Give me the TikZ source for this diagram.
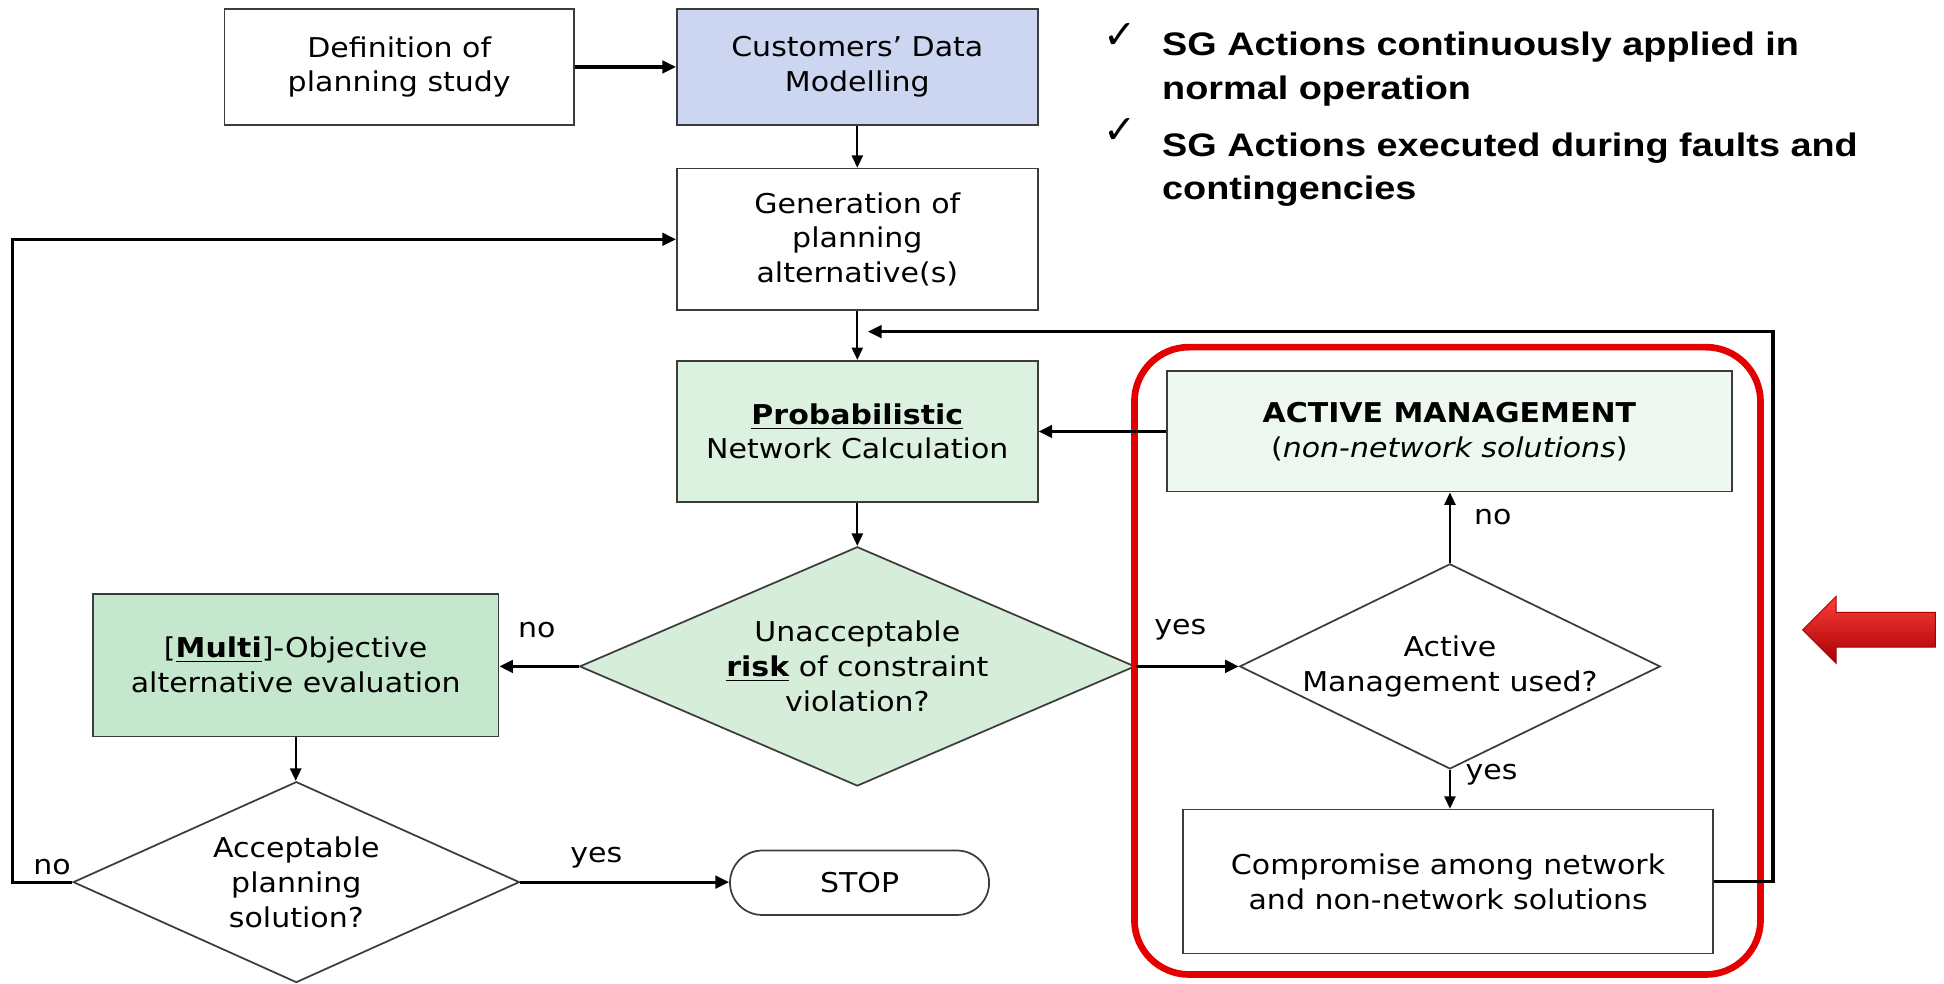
\documentclass[tikz,border=0pt]{standalone}
\usepackage{fontspec}
\setmainfont{DejaVu Sans}[FakeStretch=1.1]
\newfontfamily\bulfont{Liberation Sans}[FakeStretch=1.16]
\newfontfamily\chkfont{DejaVu Sans}
\usetikzlibrary{arrows.meta,shapes.geometric}
\newcommand\bodyfnt{\fontsize{11pt}{14pt}\selectfont}
\definecolor{bord}{RGB}{60,60,60}
\definecolor{custblue}{RGB}{205,214,240}
\definecolor{probgreen}{RGB}{221,241,224}
\definecolor{amgreen}{RGB}{238,248,240}
\definecolor{dgreen}{RGB}{214,237,218}
\definecolor{multigreen}{RGB}{197,231,205}
\definecolor{framered}{RGB}{228,0,0}
\tikzset{
  box/.style={rectangle, draw=bord, line width=0.7pt, inner sep=0pt, align=center, font=\bodyfnt},
  dia/.style={diamond, draw=bord, line width=0.7pt, inner sep=0pt, align=center, font=\bodyfnt},
  lbl/.style={inner sep=0pt, font=\bodyfnt},
  arrthick/.style={line width=1.3pt, -{Triangle[length=5.5pt,width=5pt]}},
  arrthin/.style={line width=0.8pt, -{Triangle[length=5pt,width=4.5pt]}},
  bul/.style={anchor=base west, inner sep=0pt, font=\bulfont\bfseries\fontsize{13.15pt}{16pt}\selectfont},
  chk/.style={inner sep=0pt, font={\chkfont\fontsize{16pt}{18pt}\selectfont}}
}
\begin{document}
\begin{tikzpicture}[x=0.5pt,y=-0.5pt]
\useasboundingbox[fill=white] (0,0) rectangle (1568,793);

% boxes
\node[box, minimum width=141pt, minimum height=47pt] (def) at (322,54) {Definition of\\planning study};
\node[box, fill=custblue, minimum width=145.5pt, minimum height=47pt] (cust) at (691.5,54) {Customers' Data\\Modelling};
\node[box, minimum width=145.5pt, minimum height=57pt] (gen) at (691.5,193) {Generation of\\planning\\alternative(s)};
\node[box, fill=probgreen, minimum width=145.5pt, minimum height=57pt] (prob) at (691.5,348) {\textbf{\underline{Probabilistic}}\\Network Calculation};
\node[box, fill=amgreen, minimum width=228pt, minimum height=48.5pt] (am) at (1169,348) {\textbf{ACTIVE MANAGEMENT}\\(\textit{non-network solutions})};
\node[dia, fill=dgreen, aspect=2.32, minimum width=224pt, minimum height=96.5pt] (d1) at (691.5,537.5) {Unacceptable\\\textbf{\underline{risk}} of constraint\\violation?};
\node[box, fill=multigreen, minimum width=163.5pt, minimum height=57.5pt] (multi) at (238.5,536.5) {[\textbf{\underline{Multi}}]-Objective\\alternative evaluation};
\node[dia, fill=white, aspect=2.22, minimum width=180pt, minimum height=81pt] (d2) at (239,711.5) {Acceptable\\planning\\solution?};
\node[box, rounded corners=13pt, minimum width=104.5pt, minimum height=26pt] (stop) at (693.3,712) {STOP};
\node[dia, fill=white, aspect=2.05, minimum width=165pt, minimum height=80.5pt] (d3) at (1169.5,537.5) {Active\\Management used?};
\node[box, minimum width=213.75pt, minimum height=58pt] (comp) at (1168,711) {Compromise among network\\and non-network solutions};

% red frame
\draw[framered, line width=2.7pt, rounded corners=22pt] (915,280) rectangle (1420,786);

% helper coordinates
\coordinate (fbl) at (10,711.5);
\coordinate (loopR) at (1430,267.5);
\coordinate (loopTip) at (700,267.5);

% connectors
\draw[arrthick] (def) -- (cust);
\draw[arrthin] (cust) -- (gen);
\draw[arrthin] (gen) -- (prob);
\draw[arrthin] (prob) -- (d1);
\draw[arrthick] (am.west) -- (am.west -| prob.east);
\draw[arrthick] (d1.west) -- (d1.west -| multi.east);
\draw[arrthick] (d1.east) -- (d3.west);
\draw[arrthin] (d3.north) -- (d3.north |- am.south);
\draw[arrthin] (d3.south) -- (d3.south |- comp.north);
\draw[arrthin] (multi.south) -- (multi.south |- d2.north);
\draw[arrthick] (d2.east) -- (d2.east -| stop.west);
\draw[arrthick] (d2.west) -- (fbl) |- (gen.west);
\draw[arrthick] (comp.east) -| (loopR) -- (loopTip);

% labels
\node[lbl] (l1) at (433,508) {no};
\node[lbl] (l2) at (952,508) {yes};
\node[lbl] (l3) at (1204,417) {no};
\node[lbl] (l4) at (1203,625) {yes};
\node[lbl] (l5) at (42,699) {no};
\node[lbl] (l6) at (481,692) {yes};

% bullets
\node[chk] (c1) at (903.5,29) {✓};
\node[chk] (c2) at (903.5,105.5) {✓};
\node[bul] (b1) at (937,45) {SG Actions continuously applied in};
\node[bul] (b2) at (937,80) {normal operation};
\node[bul] (b3) at (937,126) {SG Actions executed during faults and};
\node[bul] (b4) at (937,161) {contingencies};

% red block arrow
\shade[top color={rgb,255:red,255;green,60;blue,60}, middle color={rgb,255:red,240;green,0;blue,0}, bottom color={rgb,255:red,165;green,0;blue,0}, draw={rgb,255:red,170;green,0;blue,0}, line width=0.4pt]
  (1454,508) -- (1481,481) -- (1481,494) -- (1561,494) -- (1561,522) -- (1481,522) -- (1481,535) -- cycle;
\end{tikzpicture}
\end{document}
